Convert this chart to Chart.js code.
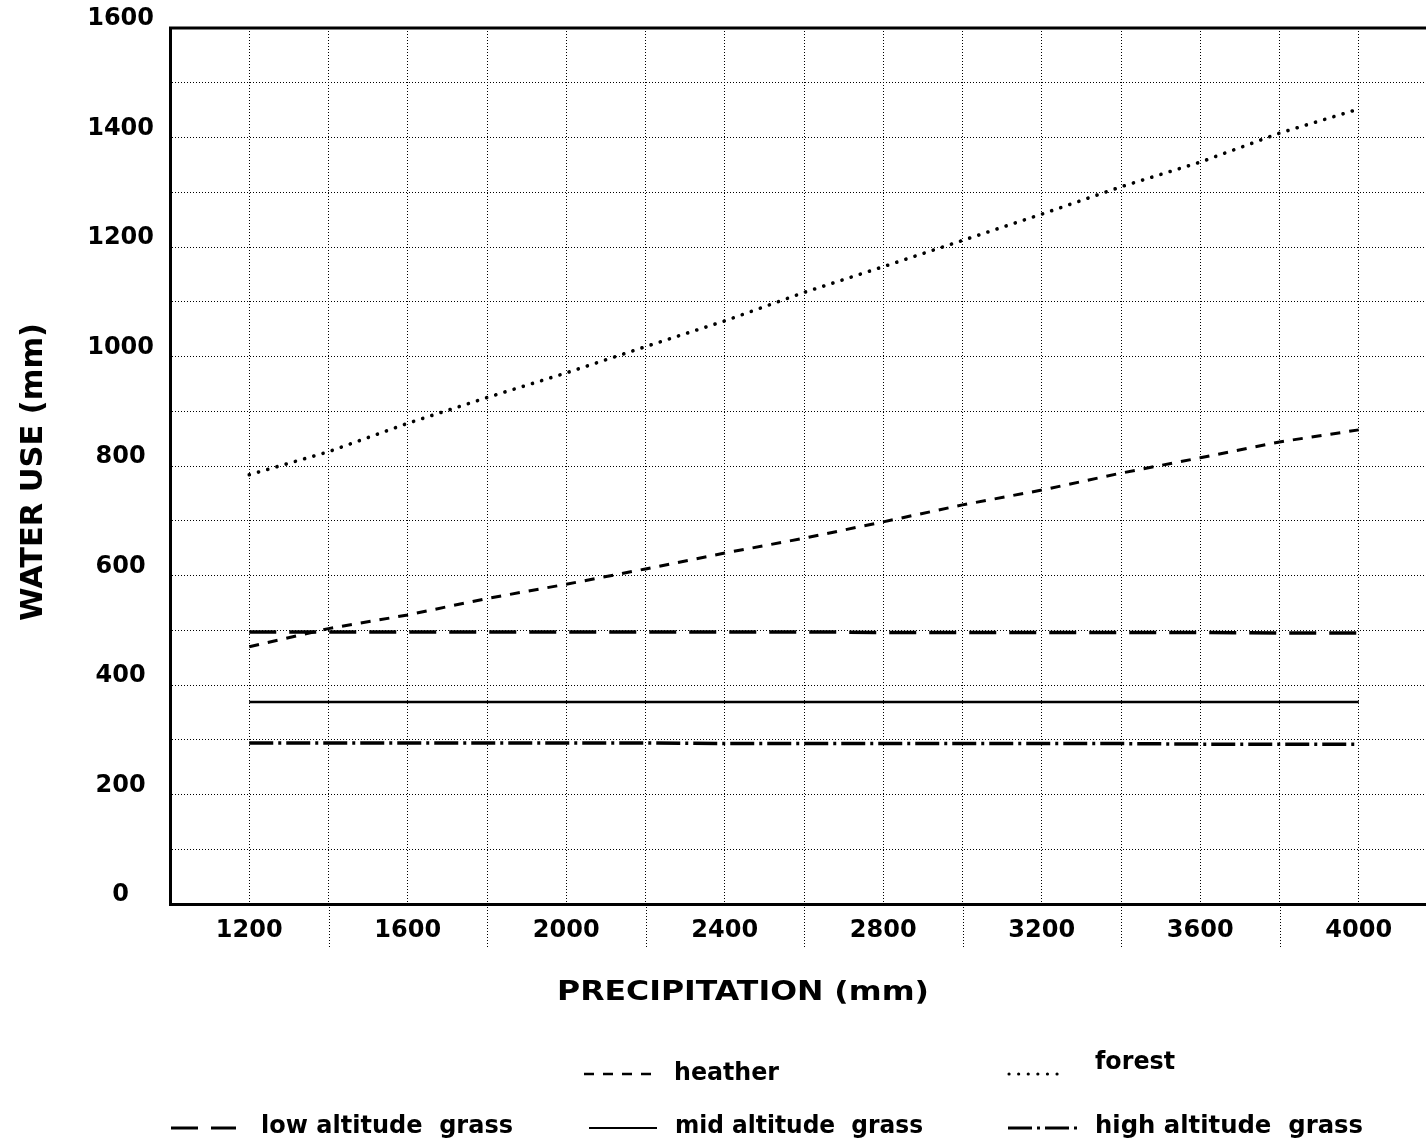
<!DOCTYPE html>
<html><head><meta charset="utf-8">
<style>
html,body{margin:0;padding:0;background:#fff;overflow:hidden;width:1426px;height:1145px}
canvas{display:block}
</style>
<script src="https://cdn.jsdelivr.net/npm/chart.js@4.4.1/dist/chart.umd.min.js"></script>
</head><body>
<canvas id="c" width="1450" height="1145"></canvas>
<script>
// ---- data ----
const precipitation = [1200, 1400, 1600, 1800, 2000, 2200, 2400, 2600, 2800, 3000, 3200, 3400, 3600, 3800, 4000];
const forest    = [784, 826, 878, 925, 970, 1018, 1065, 1117, 1164, 1212, 1260, 1310, 1355, 1408, 1452];
const heather   = [470, 503, 528, 558, 584, 612, 641, 668, 698, 729, 756, 787, 815, 844, 866];
const lowGrass  = [497, 497, 497, 497, 497, 497, 497, 497, 496, 496, 496, 496, 496, 495, 495];
const midGrass  = [369, 369, 369, 369, 369, 369, 369, 369, 369, 369, 369, 369, 369, 369, 369];
const highGrass = [294, 294, 294, 294, 294, 294, 293, 293, 293, 293, 293, 293, 292, 292, 292];
const xTickLabels = [1200, 1600, 2000, 2400, 2800, 3200, 3600, 4000];
const yTickLabels = [0, 200, 400, 600, 800, 1000, 1200, 1400, 1600];
const seriesNames = ['heather', 'forest', 'low altitude  grass', 'mid altitude  grass', 'high altitude  grass'];
const xTitle = 'PRECIPITATION (mm)';
const yTitle = 'WATER USE (mm)';

const FONT = '"DejaVu Sans", "Liberation Sans", sans-serif';
const pts = arr => precipitation.map((x, i) => ({x: x, y: arr[i]}));

const styles = [
  {borderWidth: 3, borderDash: [10, 9], borderCapStyle: 'butt'},
  {borderWidth: 3.6, borderDash: [0.1, 9.5], borderCapStyle: 'round'},
  {borderWidth: 3.5, borderDash: [27, 13], borderCapStyle: 'butt'},
  {borderWidth: 2.6, borderDash: [], borderCapStyle: 'butt'},
  {borderWidth: 3.5, borderDash: [24, 5, 3, 5], borderCapStyle: 'butt'}
];
const seriesData = [heather, forest, lowGrass, midGrass, highGrass];

const datasets = seriesNames.map((name, i) => Object.assign({
  label: name,
  data: pts(seriesData[i]),
  borderColor: '#000',
  backgroundColor: '#000',
  pointRadius: 0,
  tension: 0,
  fill: false
}, styles[i]));

function fitText(ctx, text, cx, cy, width, size, rot) {
  ctx.save();
  ctx.font = 'bold ' + size + 'px ' + FONT;
  const m = ctx.measureText(text).width;
  ctx.translate(cx, cy);
  if (rot) ctx.rotate(rot);
  ctx.scale(width / m, 1);
  ctx.textAlign = 'left';
  ctx.textBaseline = 'middle';
  ctx.fillStyle = '#000';
  ctx.fillText(text, -m / 2, 0);
  ctx.restore();
}
function leftText(ctx, text, x, cy, width, size) {
  ctx.save();
  ctx.font = 'bold ' + size + 'px ' + FONT;
  const m = ctx.measureText(text).width;
  ctx.translate(x, cy);
  ctx.scale(width / m, 1);
  ctx.textAlign = 'left';
  ctx.textBaseline = 'middle';
  ctx.fillStyle = '#000';
  ctx.fillText(text, 0, 0);
  ctx.restore();
}

const decor = {
  id: 'decor',
  beforeDatasetsDraw(chart) {
    const ctx = chart.ctx, xs = chart.scales.x, a = chart.chartArea;
    ctx.save();
    ctx.strokeStyle = '#000'; ctx.lineWidth = 1; ctx.setLineDash([1, 2]);
    xs.ticks.forEach(t => {
      if (t.value > 1200 && t.value < 4000 && !xTickLabels.includes(t.value)) {
        const px = Math.round(xs.getPixelForValue(t.value)) + 0.5;
        ctx.beginPath(); ctx.moveTo(px, a.bottom); ctx.lineTo(px, a.bottom + 44); ctx.stroke();
      }
    });
    ctx.restore();
  },
  afterDraw(chart) {
    const ctx = chart.ctx, a = chart.chartArea;
    ctx.save();
    ctx.strokeStyle = '#000'; ctx.lineWidth = 3; ctx.setLineDash([]);
    ctx.beginPath(); ctx.moveTo(a.left - 1, a.top); ctx.lineTo(a.right + 2, a.top); ctx.stroke();
    ctx.restore();
    fitText(ctx, xTitle, 743, 993, 372, 27, 0);
    fitText(ctx, yTitle, 34, 472, 298, 31, -Math.PI / 2);
    const L = [
      {i: 0, s0: 584, s1: 654, sy: 1074, tx: 674, ty: 1073, tw: 105},
      {i: 1, s0: 1009, s1: 1066, sy: 1074, tx: 1095, ty: 1062, tw: 80},
      {i: 2, s0: 171, s1: 236, sy: 1128, tx: 261, ty: 1126, tw: 252},
      {i: 3, s0: 589, s1: 657, sy: 1128, tx: 675, ty: 1126, tw: 248},
      {i: 4, s0: 1008, s1: 1080, sy: 1128, tx: 1095, ty: 1126, tw: 268}
    ];
    L.forEach(it => {
      const ds = chart.data.datasets[it.i];
      ctx.save();
      ctx.strokeStyle = '#000';
      ctx.lineWidth = Math.max(2.2, ds.borderWidth - 0.5);
      ctx.lineCap = ds.borderCapStyle;
      ctx.setLineDash(ds.borderDash);
      ctx.beginPath(); ctx.moveTo(it.s0, it.sy); ctx.lineTo(it.s1, it.sy); ctx.stroke();
      ctx.restore();
      leftText(ctx, ds.label, it.tx, it.ty, it.tw, 25);
    });
  }
};

new Chart(document.getElementById('c'), {
  type: 'line',
  data: {datasets: datasets},
  options: {
    responsive: false,
    animation: false,
    devicePixelRatio: 1,
    layout: {padding: {left: 0, top: 28, right: 12, bottom: 181}},
    plugins: {legend: {display: false}, tooltip: {enabled: false}, title: {display: false}},
    scales: {
      x: {
        type: 'linear', min: 1000, max: 4200,
        afterFit(s) { s.height = 60; s.paddingLeft = 0; s.paddingRight = 0; },
        ticks: {
          stepSize: 200, autoSkip: false, maxRotation: 0, padding: 12,
          color: '#000', font: {family: FONT, weight: 'bold', size: 24},
          callback: v => xTickLabels.includes(v) ? String(v) : ''
        },
        grid: {color: '#000', lineWidth: 1, drawTicks: false},
        border: {display: true, color: '#000', width: 3, dash: [1, 2]}
      },
      y: {
        type: 'linear', min: 0, max: 1600,
        afterFit(s) { s.width = 170; s.paddingTop = 0; s.paddingBottom = 0; },
        ticks: {
          stepSize: 100, autoSkip: false, padding: 16, crossAlign: 'center', labelOffset: -9,
          color: '#000', font: {family: FONT, weight: 'bold', size: 24},
          callback: v => yTickLabels.includes(v) ? String(v) : ''
        },
        grid: {color: '#000', lineWidth: 1, drawTicks: false},
        border: {display: true, color: '#000', width: 3, dash: [1, 2]}
      }
    }
  },
  plugins: [decor]
});
</script>
</body></html>
